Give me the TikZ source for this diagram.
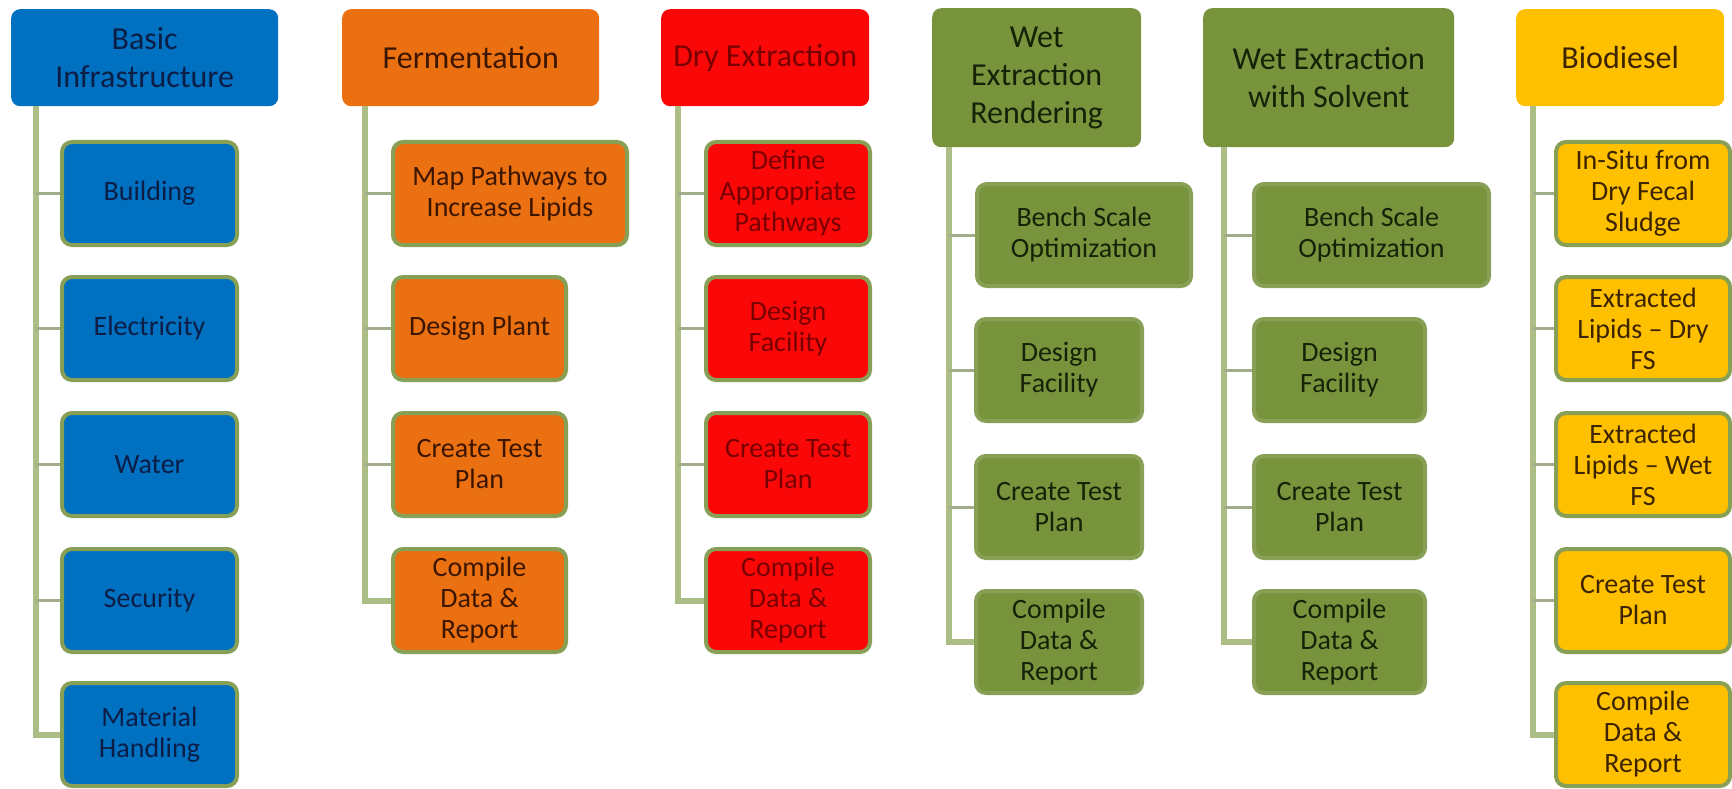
\documentclass[tikz,border=0pt]{standalone}
\usepackage{fontspec}
\setmainfont{Carlito}
\definecolor{cblue}{RGB}{0,112,192}
\definecolor{corange}{RGB}{234,112,18}
\definecolor{cred}{RGB}{250,8,8}
\definecolor{cgreen}{RGB}{119,147,60}
\definecolor{cyellow}{RGB}{255,192,0}
\definecolor{tblue}{RGB}{12,30,70}
\definecolor{torange}{RGB}{60,22,0}
\definecolor{tred}{RGB}{120,0,0}
\definecolor{tgreen}{RGB}{22,34,8}
\definecolor{tyellow}{RGB}{60,36,0}
\definecolor{linkcol}{RGB}{172,190,134}
\definecolor{tickcol}{RGB}{160,172,138}
\definecolor{rimcol}{RGB}{135,160,85}
\tikzset{
  head/.style={draw=none, rounded corners=9pt, inner sep=2pt, align=center,
    font=\fontsize{32}{38}\selectfont, anchor=north west},
  leaf/.style={draw=rimcol, line width=4pt, rounded corners=10pt, inner sep=2pt,
    align=center, font=\fontsize{28}{31}\selectfont, anchor=north west},
  trunk/.style={draw=linkcol, line width=6pt},
  twig/.style={draw=tickcol, line width=3pt},
}
% \putleaf{name}{left}{top}{width}{height}{text}: outer edges of a child box
\newcommand\putleaf[6]{%
  \node[leaf, minimum width=\the\numexpr#4-4\relax pt,
        minimum height=\the\numexpr#5-4\relax pt] (#1) at (#2+2,#3+2) {#6};}
\begin{document}
\begin{tikzpicture}[x=1pt,y=-1pt]
\useasboundingbox[fill=white] (0,0) rectangle (1732,789);

% ---- Basic Infrastructure ----
\begin{scope}[every node/.append style={fill=cblue, text=tblue}]
\node[head, minimum width=267pt, minimum height=97pt] (h1) at (11,9) {Basic\\Infrastructure};
\putleaf{a1}{58}{138}{179}{107}{Building}
\putleaf{a2}{58}{273}{179}{107}{Electricity}
\putleaf{a3}{58}{409}{179}{107}{Water}
\putleaf{a4}{58}{545}{179}{107}{Security}
\putleaf{a5}{58}{679}{179}{107}{Material\\Handling}
\end{scope}
\coordinate (t1) at (36,106);
\draw[trunk] (t1) |- (a5.west);
\foreach \n in {a1,a2,a3,a4} \draw[twig] (\n.west) -- (\n.west -| t1);

% ---- Fermentation ----
\begin{scope}[every node/.append style={fill=corange, text=torange}]
\node[head, minimum width=257pt, minimum height=97pt] (h2) at (342,9) {Fermentation};
\putleaf{b1}{389}{138}{238}{107}{Map Pathways to\\Increase Lipids}
\putleaf{b2}{389}{273}{177}{107}{Design Plant}
\putleaf{b3}{389}{409}{177}{107}{Create Test\\Plan}
\putleaf{b4}{389}{545}{177}{107}{Compile\\Data \&\\Report}
\end{scope}
\coordinate (t2) at (365,106);
\draw[trunk] (t2) |- (b4.west);
\foreach \n in {b1,b2,b3} \draw[twig] (\n.west) -- (\n.west -| t2);

% ---- Dry Extraction ----
\begin{scope}[every node/.append style={fill=cred, text=tred}]
\node[head, minimum width=208pt, minimum height=97pt] (h3) at (661,9) {Dry Extraction};
\putleaf{c1}{702}{138}{168}{107}{Define\\Appropriate\\Pathways}
\putleaf{c2}{702}{273}{168}{107}{Design\\Facility}
\putleaf{c3}{702}{409}{168}{107}{Create Test\\Plan}
\putleaf{c4}{702}{545}{168}{107}{Compile\\Data \&\\Report}
\end{scope}
\coordinate (t3) at (678,106);
\draw[trunk] (t3) |- (c4.west);
\foreach \n in {c1,c2,c3} \draw[twig] (\n.west) -- (\n.west -| t3);

% ---- Wet Extraction Rendering ----
\begin{scope}[every node/.append style={fill=cgreen, text=tgreen}]
\node[head, minimum width=209pt, minimum height=139pt] (h4) at (932,8) {Wet\\Extraction\\Rendering};
\putleaf{d1}{973}{180}{218}{106}{Bench Scale\\Optimization}
\putleaf{d2}{972}{315}{170}{106}{Design\\Facility}
\putleaf{d3}{972}{452}{170}{106}{Create Test\\Plan}
\putleaf{d4}{972}{587}{170}{106}{Compile\\Data \&\\Report}
\end{scope}
\coordinate (t4) at (949,147);
\draw[trunk] (t4) |- (d4.west);
\foreach \n in {d1,d2,d3} \draw[twig] (\n.west) -- (\n.west -| t4);

% ---- Wet Extraction with Solvent ----
\begin{scope}[every node/.append style={fill=cgreen, text=tgreen}]
\node[head, minimum width=251pt, minimum height=139pt] (h5) at (1203,8) {Wet Extraction\\with Solvent};
\putleaf{e1}{1250}{180}{239}{106}{Bench Scale\\Optimization}
\putleaf{e2}{1250}{315}{175}{106}{Design\\Facility}
\putleaf{e3}{1250}{452}{175}{106}{Create Test\\Plan}
\putleaf{e4}{1250}{587}{175}{106}{Compile\\Data \&\\Report}
\end{scope}
\coordinate (t5) at (1224,147);
\draw[trunk] (t5) |- (e4.west);
\foreach \n in {e1,e2,e3} \draw[twig] (\n.west) -- (\n.west -| t5);

% ---- Biodiesel ----
\begin{scope}[every node/.append style={fill=cyellow, text=tyellow}]
\node[head, minimum width=208pt, minimum height=97pt] (h6) at (1516,9) {Biodiesel};
\putleaf{f1}{1552}{138}{178}{107}{In-Situ from\\Dry Fecal\\Sludge}
\putleaf{f2}{1552}{273}{178}{107}{Extracted\\Lipids – Dry\\FS}
\putleaf{f3}{1552}{409}{178}{107}{Extracted\\Lipids – Wet\\FS}
\putleaf{f4}{1552}{545}{178}{107}{Create Test\\Plan}
\putleaf{f5}{1552}{679}{178}{107}{Compile\\Data \&\\Report}
\end{scope}
\coordinate (t6) at (1533,106);
\draw[trunk] (t6) |- (f5.west);
\foreach \n in {f1,f2,f3,f4} \draw[twig] (\n.west) -- (\n.west -| t6);
\end{tikzpicture}
\end{document}
